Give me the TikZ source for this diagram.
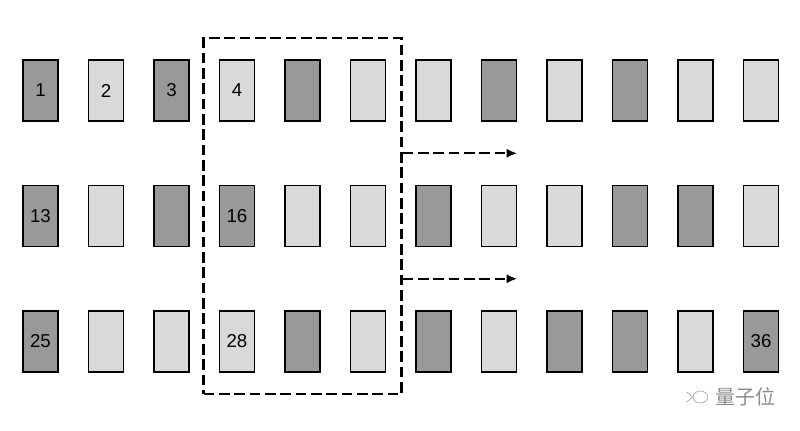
\documentclass[tikz,border=0pt]{standalone}
\usepackage{fontspec}
\setmainfont{Liberation Sans}
\newfontfamily\cjk{Noto Sans CJK SC}
\usetikzlibrary{calc,arrows.meta,positioning,fit,shapes.geometric}
\tikzset{
  cell/.style={draw=black, line width=1pt, minimum width=26.25pt, minimum height=45.75pt,
    inner sep=0pt, font=\fontsize{14}{16}\selectfont},
  darkcell/.style={cell, fill=black!40},
  lightcell/.style={cell, fill=black!15},
  window/.style={draw=black, line width=1.6pt, dash pattern=on 8pt off 3.5pt},
  shiftarr/.style={-{Latex[length=8pt,width=7pt]}, line width=1.6pt, dash pattern=on 8pt off 3.5pt},
  markline/.style={draw=black!35, line width=0.5pt}
}

\begin{document}
\begin{tikzpicture}[x=0.75pt, y=-0.75pt]
  \useasboundingbox (0,0) rectangle (800,430);

  % three rows of twelve cells
  \foreach \t/\lab [count=\c] in {darkcell/1, lightcell/2, darkcell/3, lightcell/4, darkcell/{}, lightcell/{},
      lightcell/{}, darkcell/{}, lightcell/{}, darkcell/{}, lightcell/{}, lightcell/{}}
    \node[\t] (b\c) at ({40.5+65.5*(\c-1)}, 90.5) {\lab};
  \foreach \t/\lab [count=\c from 13] in {darkcell/13, lightcell/{}, darkcell/{}, darkcell/16, lightcell/{}, lightcell/{},
      darkcell/{}, lightcell/{}, lightcell/{}, darkcell/{}, darkcell/{}, lightcell/{}}
    \node[\t] (b\c) at ({40.5+65.5*(\c-13)}, 216) {\lab};
  \foreach \t/\lab [count=\c from 25] in {darkcell/25, lightcell/{}, lightcell/{}, lightcell/28, darkcell/{}, lightcell/{},
      darkcell/{}, lightcell/{}, darkcell/{}, darkcell/{}, lightcell/{}, darkcell/36}
    \node[\t] (b\c) at ({40.5+65.5*(\c-25)}, 341.5) {\lab};

  % sliding window
  \node[window, fit=(b4)(b30), inner xsep=11.5pt, inner ysep=16pt] (win) {};

  \coordinate (gap1) at ($(b6.south)!.5!(b18.north)$);
  \coordinate (gap2) at ($(b18.south)!.5!(b30.north)$);
  \draw[shiftarr] (win.east |- gap1) -- (b8.east |- gap1);
  \draw[shiftarr] (win.east |- gap2) -- (b8.east |- gap2);

  % watermark
  \node[text=black!45, font=\cjk\fontsize{15}{17}\selectfont, inner sep=0pt] (mark) at (745,397) {量子位};
  \node[markline, ellipse, minimum width=11pt, minimum height=9pt, inner sep=0pt, left=5pt of mark] (face) {};
  \draw[markline] (face.west) -- ++(-6,-5) (face.west) -- ++(-6,5);
\end{tikzpicture}
\end{document}
